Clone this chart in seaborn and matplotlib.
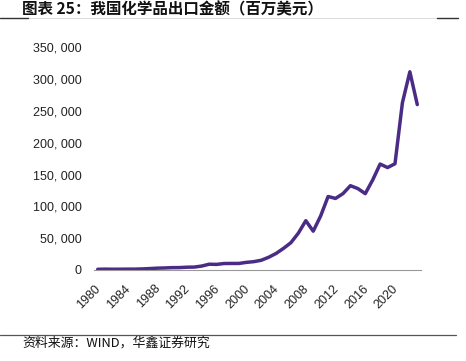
import matplotlib
matplotlib.use("Agg")
import matplotlib.pyplot as plt
import matplotlib.transforms as mtransforms
import seaborn as sns
import pandas as pd
from matplotlib.ticker import FuncFormatter, FixedLocator

sns.set_theme(style="white")
plt.rcParams['font.family'] = ['Liberation Sans', 'Noto Sans CJK SC', 'DejaVu Sans']

years = list(range(1980, 2024))
values = [1120, 1340, 1200, 1250, 1360, 1360, 1700, 2235, 2900, 3200,
          3700, 3800, 4400, 4600, 6200, 9100, 8800, 10200, 10300, 10300,
          12000, 13100, 15300, 20000, 26000, 34000, 43000, 58000, 77500, 61000,
          85000, 115500, 112500, 120000, 132500, 128000, 120000, 141500, 166500, 161000,
          167000, 263000, 311500, 260000]
tick_years = [1980, 1984, 1988, 1992, 1996, 2000, 2004, 2008, 2012, 2016, 2020]

title = "图表 25：我国化学品出口金额（百万美元）"
source = "资料来源：WIND，华鑫证券研究"

df = pd.DataFrame({"pos": range(len(years)), "year": years, "value": values})

W, H = 466, 361
fig = plt.figure(figsize=(W / 100, H / 100), dpi=100)
ax = fig.add_axes([94 / W, (H - 270) / H, (421 - 94) / W, (270 - 47.3) / H])

sns.lineplot(data=df, x="pos", y="value", ax=ax, color="#4a2c86", linewidth=2.5)

ax.set_xlim(-0.5, len(years) - 0.5)
ax.set_ylim(0, 350000)
ax.set_yticks(range(0, 350001, 50000))
ax.yaxis.set_major_formatter(FuncFormatter(lambda v, p: f"{int(v):,}".replace(",", ", ")))
ax.tick_params(axis="y", length=0, pad=9, labelsize=9, colors="#222222")

# category boundaries as tick marks, labels at category centres
bounds = [i - 0.5 for i in range(0, len(years), 4)] + [len(years) - 0.5]
ax.xaxis.set_major_locator(FixedLocator([years.index(y) for y in tick_years]))
ax.set_xticklabels([str(y) for y in tick_years])
ax.xaxis.set_minor_locator(FixedLocator(bounds))
ax.tick_params(axis="x", which="major", length=0, pad=9, labelsize=9, colors="#222222")
ax.tick_params(axis="x", which="minor", length=3, width=0.8, direction="in", color="#999999")
shift = mtransforms.ScaledTranslation(-3 / 100, 0, fig.dpi_scale_trans)
for lab in ax.get_xticklabels():
    lab.set_rotation(45)
    lab.set_ha("right")
    lab.set_va("top")
    lab.set_rotation_mode("anchor")
    lab.set_transform(lab.get_transform() + shift)

for s in ["left", "right", "top"]:
    ax.spines[s].set_visible(False)
ax.spines["bottom"].set_color("#999999")
ax.spines["bottom"].set_linewidth(0.8)
ax.set_xlabel("")
ax.set_ylabel("")
ax.grid(False)

cjk = ['Noto Sans CJK SC', 'DejaVu Sans']
fig.text(22 / W, 1 - 14 / H, title, family=cjk, fontsize=11.2, fontweight="bold",
         va="baseline", ha="left", color="#111111")
# header rule
fig.add_artist(plt.Line2D([0, 458 / W], [1 - 18 / H, 1 - 18 / H], color="#dddddd", lw=0.8))
fig.add_artist(plt.Line2D([0, 28 / W], [1 - 18 / H, 1 - 18 / H], color="#333333", lw=1.0))
fig.add_artist(plt.Line2D([437 / W, 458 / W], [1 - 18 / H, 1 - 18 / H], color="#333333", lw=1.0))
# footer rule
fig.add_artist(plt.Line2D([0, 456 / W], [1 - 335 / H, 1 - 335 / H], color="#555555", lw=0.9))
fig.text(22 / W, 1 - 343 / H, source, family=cjk, fontsize=9.3, va="center", ha="left",
         color="#111111")

fig.savefig("out.png", dpi=100)
